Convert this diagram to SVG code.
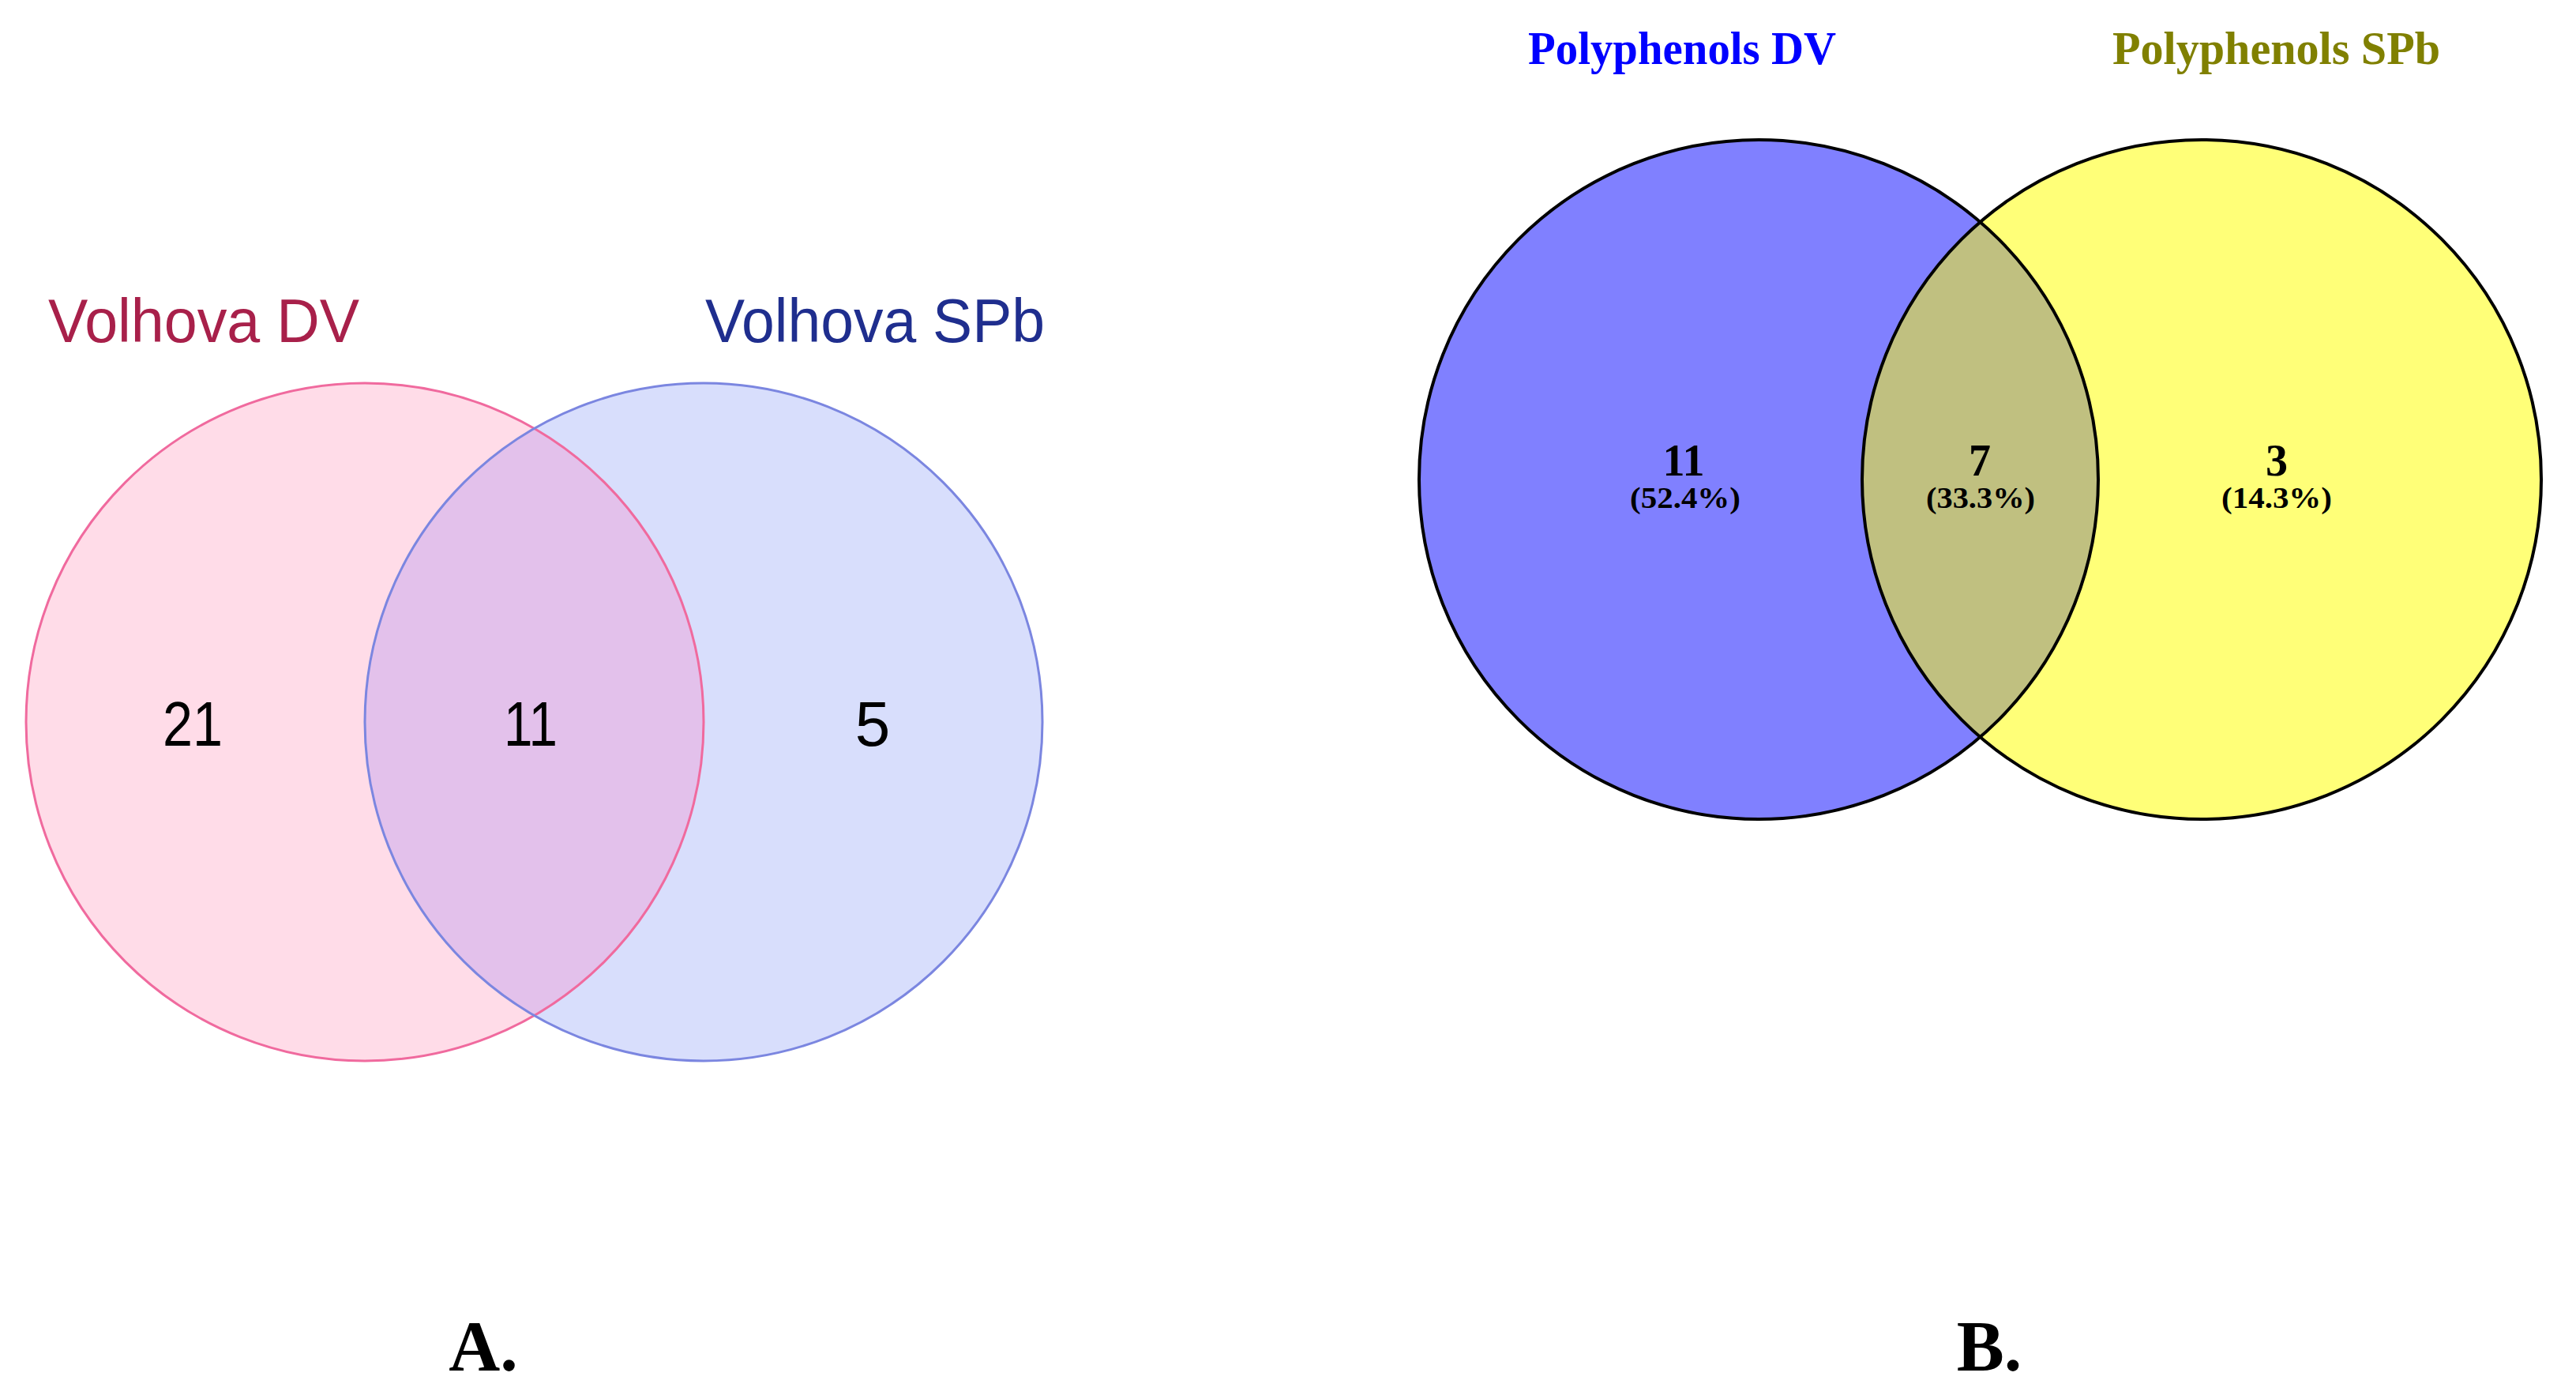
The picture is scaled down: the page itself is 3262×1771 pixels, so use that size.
<svg xmlns="http://www.w3.org/2000/svg" width="3262" height="1771" viewBox="0 0 3262 1771">
<style>
.sans{font-family:"Liberation Sans",Arial,sans-serif}
.serif{font-family:"Liberation Serif","Times New Roman",serif;font-weight:bold}
.num{font-size:80px;fill:#000;text-anchor:middle}
.bnum{font-size:56px;fill:#000;text-anchor:middle}
.pct{font-size:38px;fill:#000;text-anchor:middle}
</style>
<defs>
<clipPath id="clipA1"><circle cx="462" cy="914" r="429"/></clipPath>
<clipPath id="clipB1"><circle cx="2227" cy="607" r="430"/></clipPath>
</defs>
<rect width="3262" height="1771" fill="#fff"/>
<g id="venn-A">
<g id="A-set1"><circle cx="462" cy="914" r="429" fill="#FFDCE8"/></g>
<g id="A-set2"><circle cx="891" cy="914" r="429" fill="#D8DEFC"/></g>
<circle cx="891" cy="914" r="429" fill="#E3C1EB" clip-path="url(#clipA1)"/>
<circle cx="462" cy="914" r="429" fill="none" stroke="#F06A9E" stroke-width="3"/>
<circle cx="891" cy="914" r="429" fill="none" stroke="#7B86E0" stroke-width="3"/>
<text class="sans" x="61" y="433" font-size="78" fill="#A8204A" textLength="394" lengthAdjust="spacingAndGlyphs">Volhova DV</text>
<text class="sans" x="893" y="433" font-size="78" fill="#1F2E8E" textLength="430" lengthAdjust="spacingAndGlyphs">Volhova SPb</text>
<text class="sans num" x="244" y="944" textLength="76" lengthAdjust="spacingAndGlyphs">21</text>
<text class="sans num" x="672" y="944" textLength="68" lengthAdjust="spacingAndGlyphs">11</text>
<text class="sans num" x="1105" y="944">5</text>
<text class="serif" x="612" y="1735" font-size="90" text-anchor="middle">A.</text>
</g>
<g id="venn-B">
<g id="B-set1"><circle cx="2227" cy="607" r="430" fill="#8080FF"/></g>
<g id="B-set2"><circle cx="2788" cy="607" r="430" fill="#FFFF78"/></g>
<circle cx="2788" cy="607" r="430" fill="#C0C080" clip-path="url(#clipB1)"/>
<circle cx="2227" cy="607" r="430" fill="none" stroke="#000" stroke-width="4"/>
<circle cx="2788" cy="607" r="430" fill="none" stroke="#000" stroke-width="4"/>
<text class="serif" x="1935" y="81" font-size="60" fill="#0000FF" textLength="390" lengthAdjust="spacingAndGlyphs">Polyphenols DV</text>
<text class="serif" x="2675" y="81" font-size="60" fill="#808000" textLength="415" lengthAdjust="spacingAndGlyphs">Polyphenols SPb</text>
<text class="serif bnum" x="2132" y="602">11</text>
<text class="serif pct" x="2134" y="643" textLength="140" lengthAdjust="spacingAndGlyphs">(52.4%)</text>
<text class="serif bnum" x="2507" y="602">7</text>
<text class="serif pct" x="2508" y="643" textLength="138" lengthAdjust="spacingAndGlyphs">(33.3%)</text>
<text class="serif bnum" x="2883" y="602">3</text>
<text class="serif pct" x="2883" y="643" textLength="140" lengthAdjust="spacingAndGlyphs">(14.3%)</text>
<text class="serif" x="2519" y="1735" font-size="90" text-anchor="middle">B.</text>
</g>
</svg>
